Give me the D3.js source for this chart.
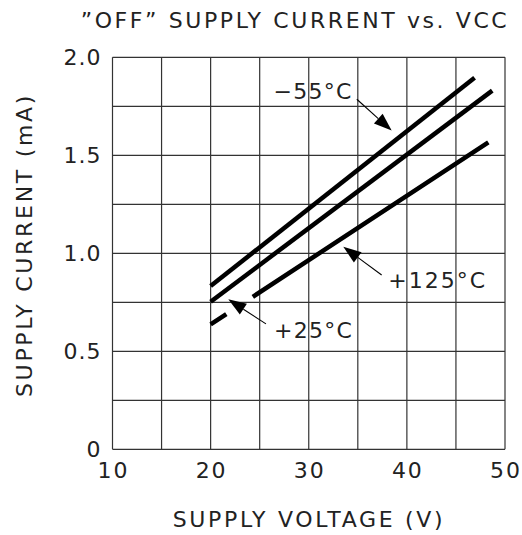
<!DOCTYPE html>
<html>
<head>
<meta charset="utf-8">
<script src="https://cdn.jsdelivr.net/npm/d3@7/dist/d3.min.js"></script>
<style>
  body { margin: 0; background: #fff; }
  svg text { font-family: "DejaVu Sans", sans-serif; fill: #222; }
</style>
</head>
<body>
<div id="chart"></div>
<script>
// axis ranges and tick labels
var xDomain = [10, 50];
var yDomain = [0, 2.0];
var xGrid = [10, 15, 20, 25, 30, 35, 40, 45, 50];
var yGrid = [0, 0.25, 0.5, 0.75, 1.0, 1.25, 1.5, 1.75, 2.0];
var xLabels = {10: "10", 20: "20", 30: "30", 40: "40", 50: "50"};
var yLabels = {0: "0", 0.5: "0.5", 1: "1.0", 1.5: "1.5", 2: "2.0"};

// series: start/end points (straight lines)
var series = ["-55°C", "+25°C", "+125°C"];
var vStart = [20, 20, 20];
var vEnd = [46.9, 48.7, 48.3];
var iStart = [0.833, 0.753, 0.637];
var iEnd = [1.896, 1.83, 1.566];
// +125°C line is broken where the +25°C arrow passes
var gapV = [21.6, 24.3];

// annotations: text anchor (V, mA), arrow tail and tip
var labelText = ["\u221255°C", "+25°C", "+125°C"];
var labelPos = [[26.4, 1.786], [26.45, 0.566], [38.1, 0.824]];
var arrowFrom = [[34.9, 1.786], [25.64, 0.64], [37.43, 0.889]];
var arrowTo = [[38.45, 1.626], [21.8, 0.765], [33.52, 1.034]];

var W = 522, H = 535;
var margin = {left: 112.5, right: 17, top: 57.3, bottom: 85.7};
var pw = W - margin.left - margin.right;
var ph = H - margin.top - margin.bottom;

var svg = d3.select("#chart").append("svg")
    .attr("width", W)
    .attr("height", H);

var x = d3.scaleLinear().domain(xDomain).range([margin.left, margin.left + pw]);
var y = d3.scaleLinear().domain(yDomain).range([margin.top + ph, margin.top]);

// grid
var gridColor = "#333";
svg.append("g").selectAll("line").data(xGrid).enter().append("line")
    .attr("x1", function(d) { return x(d); })
    .attr("x2", function(d) { return x(d); })
    .attr("y1", y(yDomain[0]))
    .attr("y2", y(yDomain[1]))
    .attr("stroke", gridColor)
    .attr("stroke-width", 1.2);
svg.append("g").selectAll("line").data(yGrid).enter().append("line")
    .attr("y1", function(d) { return y(d); })
    .attr("y2", function(d) { return y(d); })
    .attr("x1", x(xDomain[0]))
    .attr("x2", x(xDomain[1]))
    .attr("stroke", gridColor)
    .attr("stroke-width", 1.2);

// tick labels
svg.append("g").selectAll("text").data(xGrid.filter(function(d) { return xLabels[d]; })).enter()
    .append("text")
    .attr("x", function(d) { return x(d) + 1; })
    .attr("y", y(0) + 29)
    .attr("text-anchor", "middle")
    .style("font-size", "22px")
    .style("letter-spacing", "2px")
    .text(function(d) { return xLabels[d]; });

svg.append("g").selectAll("text").data(yGrid.filter(function(d) { return yLabels[d]; })).enter()
    .append("text")
    .attr("x", x(10) - 11)
    .attr("y", function(d) { return y(d) + 8; })
    .attr("text-anchor", "end")
    .style("font-size", "22px")
    .style("letter-spacing", "1px")
    .text(function(d) { return yLabels[d]; });

// titles
svg.append("text")
    .attr("x", 295)
    .attr("y", 28)
    .attr("text-anchor", "middle")
    .style("font-size", "22px")
    .style("letter-spacing", "2.6px")
    .text("\u201DOFF\u201D SUPPLY CURRENT vs. VCC");

svg.append("text")
    .attr("x", 309)
    .attr("y", 527)
    .attr("text-anchor", "middle")
    .style("font-size", "22px")
    .style("letter-spacing", "2.7px")
    .text("SUPPLY VOLTAGE (V)");

svg.append("text")
    .attr("transform", "translate(32,245) rotate(-90)")
    .attr("text-anchor", "middle")
    .style("font-size", "22px")
    .style("letter-spacing", "2.7px")
    .text("SUPPLY CURRENT (mA)");

// curves
series.forEach(function(name, i) {
    var x1 = x(vStart[i]), y1 = y(iStart[i]), x2 = x(vEnd[i]), y2 = y(iEnd[i]);
    var line = svg.append("line")
        .attr("x1", x1).attr("y1", y1)
        .attr("x2", x2).attr("y2", y2)
        .attr("stroke", "#000")
        .attr("stroke-width", 4.5);
    if (name === "+125°C") {
        var len = Math.hypot(x2 - x1, y2 - y1);
        var k = len / (x2 - x1);
        var a = (x(gapV[0]) - x1) * k, b = (x(gapV[1]) - x1) * k;
        line.attr("stroke-dasharray", a + "," + (b - a) + "," + (len - b + 10));
    }
});

// annotations
labelText.forEach(function(t, i) {
    svg.append("text")
        .attr("x", x(labelPos[i][0]))
        .attr("y", y(labelPos[i][1]))
        .style("font-size", "22px")
        .style("letter-spacing", i === 2 ? "2px" : "1.3px")
        .text(t);

    var fx = x(arrowFrom[i][0]), fy = y(arrowFrom[i][1]);
    var tx = x(arrowTo[i][0]), ty = y(arrowTo[i][1]);
    var ang = Math.atan2(ty - fy, tx - fx);
    var hl = 18, hw = 6.5;
    var bx = tx - hl * Math.cos(ang), by = ty - hl * Math.sin(ang);
    svg.append("line")
        .attr("x1", fx).attr("y1", fy)
        .attr("x2", bx).attr("y2", by)
        .attr("stroke", "#000")
        .attr("stroke-width", 1.1);
    var pts = [
        [tx, ty],
        [bx + hw * Math.sin(ang), by - hw * Math.cos(ang)],
        [bx - hw * Math.sin(ang), by + hw * Math.cos(ang)]
    ];
    svg.append("polygon")
        .attr("points", pts.map(function(p) { return p.join(","); }).join(" "))
        .attr("fill", "#000");
});
</script>
</body>
</html>
